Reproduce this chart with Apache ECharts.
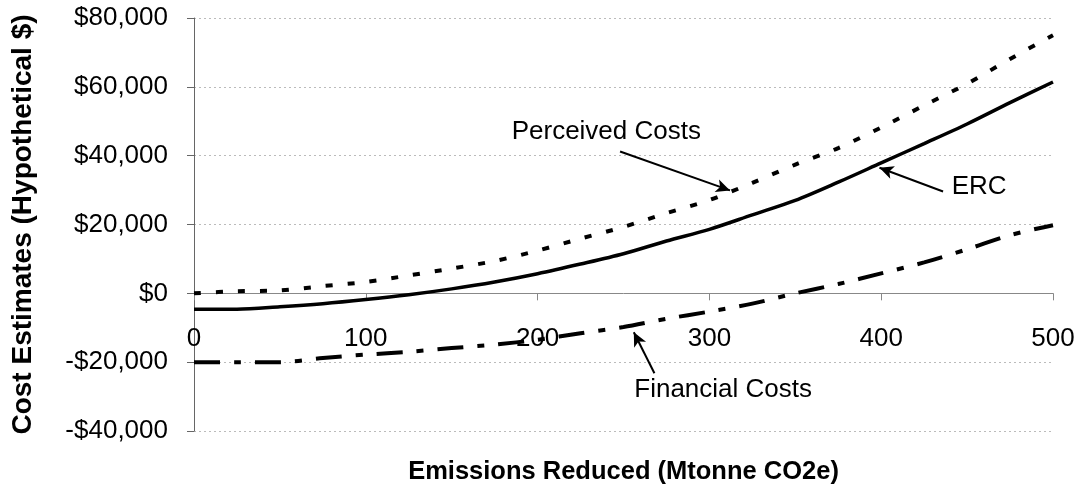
<!DOCTYPE html>
<html>
<head>
<meta charset="utf-8">
<script src="https://cdn.jsdelivr.net/npm/echarts@6/dist/echarts.min.js"></script>
<style>
  html, body { margin: 0; padding: 0; background: #fff; }
  #chart { width: 1085px; height: 496px; }
</style>
</head>
<body>
<div id="chart"></div>
<script>
// 数据（从图上读出来的估计值）
const emissions = [0, 25, 50, 75, 100, 125, 150, 175, 200, 225, 250, 275, 300, 325, 350, 375, 400, 425, 450, 475, 500];
const perceivedCosts = [0, 600, 850, 2100, 3300, 5200, 7200, 9400, 12400, 15900, 19300, 23300, 27100, 32100, 37400, 42200, 48200, 54600, 60900, 68100, 75000];
const ercCosts = [-4600, -4600, -3900, -3000, -1800, -400, 1300, 3300, 5700, 8500, 11500, 15200, 18600, 22800, 27000, 32300, 37900, 43500, 49200, 55400, 61400];
const financialCosts = [-20000, -20000, -20000, -18800, -17800, -17000, -15900, -14900, -13500, -11600, -9800, -7400, -5300, -3000, 0, 2700, 5800, 9000, 12800, 16900, 19800];

const yTicks = [-40000, -20000, 0, 20000, 40000, 60000, 80000];

// 标注：文字位置和箭头（数据坐标）
const notes = [
  { text: 'Perceived Costs', at: [240, 47000], from: [248, 41200], to: [312, 29900] },
  { text: 'ERC', at: [457, 31000], from: [436, 29600], to: [399, 36500] },
  { text: 'Financial Costs', at: [308, -28100], from: [268, -23200], to: [256, -11300] }
];

function pairs(ys) {
  return emissions.map((x, i) => [x, ys[i]]);
}

function money(v) {
  const s = Math.abs(v).toLocaleString('en-US');
  return (v < 0 ? '-$' : '$') + s;
}

const font = '"Liberation Sans", Arial, sans-serif';
let myChart = echarts.init(document.getElementById('chart'));

myChart.setOption({
  animation: false,
  textStyle: { fontFamily: font, color: '#000' },
  grid: { left: 194, right: 32, top: 18, bottom: 65, containLabel: false, outerBoundsMode: 'none' },
  xAxis: {
    type: 'value',
    min: 0, max: 500, interval: 100,
    name: 'Emissions Reduced (Mtonne CO2e)',
    nameLocation: 'middle',
    nameGap: 28,
    nameTextStyle: { fontFamily: font, fontSize: 25.5, fontWeight: 'bold', color: '#000' },
    axisLine: { onZero: true, lineStyle: { color: '#888', width: 1 } },
    axisTick: { show: true, length: 7, lineStyle: { color: '#888' } },
    // 标签放在 0 线下面（v6 标签不跟随 onZero）
    axisLabel: { margin: -105, fontSize: 26, color: '#000', fontFamily: font },
    splitLine: { show: false }
  },
  yAxis: {
    type: 'value',
    min: yTicks[0], max: yTicks[yTicks.length - 1], interval: 20000,
    name: 'Cost Estimates (Hypothetical $)',
    nameLocation: 'middle',
    nameRotate: 90,
    nameGap: 157,
    nameTextStyle: { fontFamily: font, fontSize: 28, fontWeight: 'bold', color: '#000' },
    axisLine: { show: true, lineStyle: { color: '#666', width: 1 } },
    axisTick: { show: true, length: 7, lineStyle: { color: '#666' } },
    axisLabel: { margin: 26, fontSize: 26, color: '#000', fontFamily: font, formatter: money },
    splitLine: { show: true, lineStyle: { color: '#bbb', type: [2, 3], width: 1 } }
  },
  series: [
    {
      name: 'Perceived Costs',
      type: 'line',
      data: pairs(perceivedCosts),
      smooth: 0.3,
      showSymbol: false,
      lineStyle: { color: '#000', width: 4, type: [7, 15] },
      markLine: {
        silent: true,
        symbol: ['none', 'arrow'],
        symbolSize: [10, 14],
        label: { show: false },
        lineStyle: { color: '#000', width: 2, type: 'solid' },
        data: notes.map(n => [{ coord: n.from }, { coord: n.to }])
      }
    },
    {
      name: 'ERC',
      type: 'line',
      data: pairs(ercCosts),
      smooth: 0.3,
      showSymbol: false,
      lineStyle: { color: '#000', width: 3.5, type: 'solid' }
    },
    {
      name: 'Financial Costs',
      type: 'line',
      data: pairs(financialCosts),
      smooth: 0.3,
      showSymbol: false,
      lineStyle: { color: '#000', width: 4, type: [26, 14, 7, 14] }
    }
  ]
});

// 标注文字
myChart.setOption({
  graphic: notes.map(n => {
    const p = myChart.convertToPixel({ gridIndex: 0 }, n.at);
    return {
      type: 'text',
      x: p[0], y: p[1],
      style: {
        text: n.text,
        font: '26px ' + font,
        fill: '#000',
        align: 'center',
        verticalAlign: 'middle'
      }
    };
  })
});
</script>
</body>
</html>
